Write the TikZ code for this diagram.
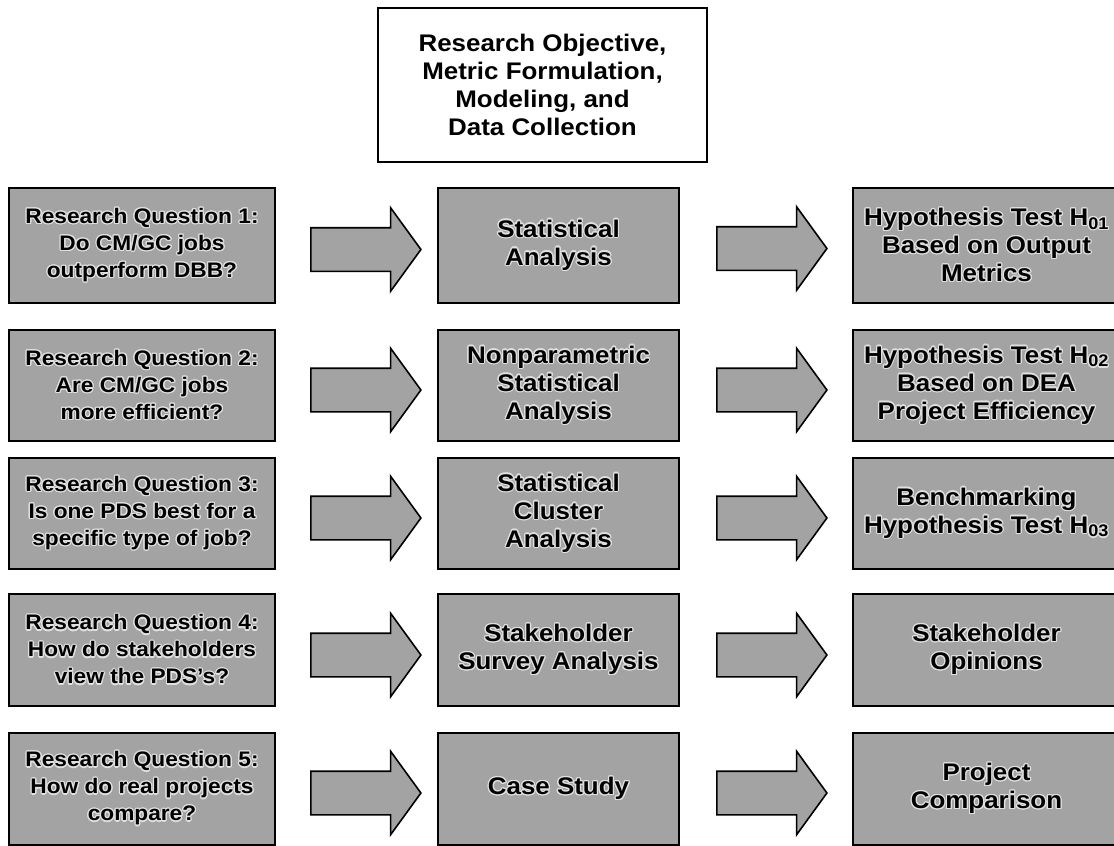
\documentclass[tikz,border=0pt]{standalone}
\usepackage{fontspec}
\setmainfont{Liberation Sans}[FakeStretch=1.08]
\usepackage{contour}
\contourlength{1.2pt}
\usetikzlibrary{shapes.arrows}
\definecolor{boxgray}{gray}{0.64}
\definecolor{halo}{gray}{0.88}
% light outline around the lettering inside the shaded boxes
\newcommand{\hl}[1]{\contour{halo}{#1}}

\begin{document}
\begin{tikzpicture}[x=1pt,y=-1pt,
  shaded/.style={draw=black, line width=1.8pt, fill=boxgray, align=center, inner sep=2pt},
  qbox/.style={shaded, minimum width=266pt, font=\fontsize{21}{27}\selectfont\bfseries},
  mbox/.style={shaded, minimum width=241pt, font=\fontsize{24}{28}\selectfont\bfseries},
  rbox/.style={shaded, minimum width=267pt, font=\fontsize{24}{28}\selectfont\bfseries},
  blockarrow/.style={single arrow, draw=black, line width=1.6pt, fill=boxgray,
    inner xsep=0pt, inner ysep=21pt, single arrow head extend=20pt,
    single arrow tip angle=108, minimum height=110pt},
]
\clip (0,0) rectangle (1114,846);

% heading box
\node[draw=black, line width=1.3pt, fill=white, minimum width=329pt, minimum height=154pt,
      align=center, font=\fontsize{24}{28}\selectfont\bfseries] (top) at (542.5,85)
  {Research Objective,\\Metric Formulation,\\Modeling, and\\Data Collection};

% row 1
\node[qbox, minimum height=115pt] (q1) at (142,245.5)
  {\hl{Research Question 1:}\\\hl{Do CM/GC jobs}\\\hl{outperform DBB?}};
\node[mbox, minimum height=115pt] (m1) at (558.5,245.5)
  {\hl{Statistical}\\\hl{Analysis}};
\node[rbox, minimum height=115pt] (r1) at (986.5,245.5)
  {\hl{Hypothesis Test H\textsubscript{01}}\\\hl{Based on Output}\\\hl{Metrics}};
\node[blockarrow] (a1) at (358,249.5) {};
\node[blockarrow] (b1) at (764,248.5) {};

% row 2
\node[qbox, minimum height=111pt] (q2) at (142,385.5)
  {\hl{Research Question 2:}\\\hl{Are CM/GC jobs}\\\hl{more efficient?}};
\node[mbox, minimum height=111pt] (m2) at (558.5,385.5)
  {\hl{Nonparametric}\\\hl{Statistical}\\\hl{Analysis}};
\node[rbox, minimum height=111pt] (r2) at (986.5,385.5)
  {\hl{Hypothesis Test H\textsubscript{02}}\\\hl{Based on DEA}\\\hl{Project Efficiency}};
\node[blockarrow] (a2) at (358,390) {};
\node[blockarrow] (b2) at (764,390) {};

% row 3
\node[qbox, minimum height=111pt] (q3) at (142,513.5)
  {\hl{Research Question 3:}\\\hl{Is one PDS best for a}\\\hl{specific type of job?}};
\node[mbox, minimum height=111pt] (m3) at (558.5,513.5)
  {\hl{Statistical}\\\hl{Cluster}\\\hl{Analysis}};
\node[rbox, minimum height=111pt] (r3) at (986.5,513.5)
  {\hl{Benchmarking}\\\hl{Hypothesis Test H\textsubscript{03}}};
\node[blockarrow] (a3) at (358,518) {};
\node[blockarrow] (b3) at (764,518) {};

% row 4
\node[qbox, minimum height=112pt] (q4) at (142,650)
  {\hl{Research Question 4:}\\\hl{How do stakeholders}\\\hl{view the PDS's?}};
\node[mbox, minimum height=112pt] (m4) at (558.5,650)
  {\hl{Stakeholder}\\\hl{Survey Analysis}};
\node[rbox, minimum height=112pt] (r4) at (986.5,650)
  {\hl{Stakeholder}\\\hl{Opinions}};
\node[blockarrow] (a4) at (358,655) {};
\node[blockarrow] (b4) at (764,655) {};

% row 5
\node[qbox, minimum height=112pt] (q5) at (142,789)
  {\hl{Research Question 5:}\\\hl{How do real projects}\\\hl{compare?}};
\node[mbox, minimum height=112pt] (m5) at (558.5,789)
  {\hl{Case Study}};
\node[rbox, minimum height=112pt] (r5) at (986.5,789)
  {\hl{Project}\\\hl{Comparison}};
\node[blockarrow] (a5) at (358,793) {};
\node[blockarrow] (b5) at (764,793) {};
\end{tikzpicture}
\end{document}
